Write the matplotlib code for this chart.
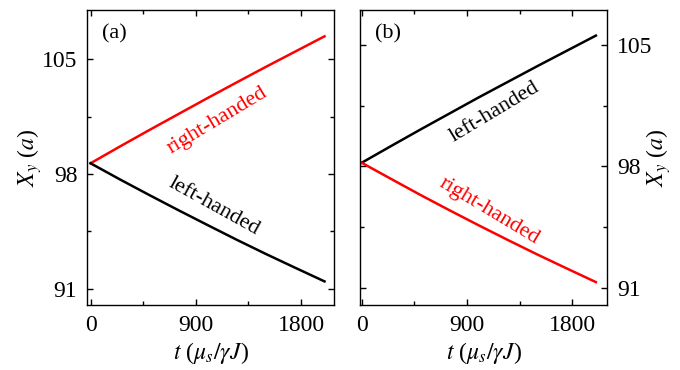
import matplotlib
matplotlib.use("Agg")
import matplotlib.pyplot as plt
from matplotlib.ticker import MultipleLocator

plt.rcParams['font.family'] = ['Liberation Serif', 'DejaVu Serif']
plt.rcParams['mathtext.fontset'] = 'stix'

t = [0, 250, 500, 750, 1000, 1250, 1500, 1750, 2000]
a_right = [98.65, 99.67, 100.67, 101.65, 102.63, 103.59, 104.54, 105.47, 106.4]
a_left = [98.65, 97.67, 96.72, 95.79, 94.88, 93.98, 93.11, 92.27, 91.44]
b_left = [98.2, 99.16, 100.11, 101.04, 101.97, 102.87, 103.77, 104.65, 105.53]
b_right = [98.2, 97.27, 96.35, 95.46, 94.59, 93.74, 92.91, 92.11, 91.32]
xticks = [0, 900, 1800]
yticks = [91, 98, 105]

fig = plt.figure(figsize=(6.8, 3.7), dpi=100)
axa = fig.add_axes([0.128, 0.1757, 0.363, 0.797])
axb = fig.add_axes([0.529, 0.1757, 0.364, 0.797])

fs = 17
for ax in (axa, axb):
    ax.set_xticks(xticks)
    ax.set_yticks(yticks)
    ax.xaxis.set_minor_locator(MultipleLocator(450))
    ax.yaxis.set_minor_locator(MultipleLocator(3.5))
    ax.tick_params(which='both', direction='in', top=True, right=True,
                   labelsize=fs, width=1)
    ax.tick_params(which='major', length=4, pad=7)
    ax.tick_params(which='minor', length=3)
    for s in ax.spines.values():
        s.set_linewidth(1)
    ax.set_xlabel(r'$t$ ($\mu_s/\gamma J$)', fontsize=fs)
    ax.xaxis.set_label_coords(0.5, -0.12)

axa.plot(t, a_right, color='red', lw=1.8)
axa.plot(t, a_left, color='black', lw=1.8)
axa.set_xlim(-30, 2080)
axa.set_ylim(90, 108)
axa.set_ylabel(r'$X_y$ ($a$)', fontsize=fs)
axa.yaxis.set_label_coords(-0.175, 0.5)
axa.text(0.11, 0.92, '(a)', transform=axa.transAxes, fontsize=16, ha='center', va='center')
axa.text(1080, 101.27, 'right-handed', color='red', fontsize=16, rotation=31,
         ha='center', va='center', rotation_mode='anchor')
axa.text(1055, 96.0, 'left-handed', color='black', fontsize=16, rotation=-29,
         ha='center', va='center', rotation_mode='anchor')

axb.plot(t, b_left, color='black', lw=1.8)
axb.plot(t, b_right, color='red', lw=1.8)
axb.set_xlim(-17, 2097)
axb.set_ylim(90, 107)
axb.yaxis.set_label_position('right')
axb.yaxis.tick_right()
axb.tick_params(which='both', left=True, right=True, labelleft=False, labelright=True)
axb.set_ylabel(r'$X_y$ ($a$)', fontsize=fs, rotation=90)
axb.yaxis.set_label_coords(1.15, 0.5)
axb.text(0.113, 0.92, '(b)', transform=axb.transAxes, fontsize=16, ha='center', va='center')
axb.text(1138, 101.09, 'left-handed', color='black', fontsize=16, rotation=31,
         ha='center', va='center', rotation_mode='anchor')
axb.text(1086, 95.39, 'right-handed', color='red', fontsize=16, rotation=-31,
         ha='center', va='center', rotation_mode='anchor')

fig.savefig('out.png', dpi=100)
